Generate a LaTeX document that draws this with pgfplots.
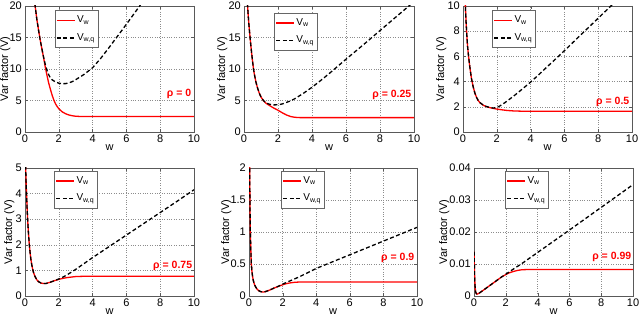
\documentclass[border=0pt]{standalone}
\usepackage{fontspec}
\setmainfont{Liberation Sans}
\usepackage{pgfplots}
\pgfplotsset{compat=1.18}
\pgfplotsset{
  panel/.style={
    scale only axis, height=128pt, anchor=south west,
    xmin=0, xmax=10, xtick={0,2,...,10},
    grid=major, grid style={dotted, line width=0.5pt, black!45},
    tick align=inside, major tick length=3pt,
    axis line style={black!65}, tick style={black!65},
    every tick label/.append style={font=\fontsize{11}{12}\selectfont},
    /pgf/number format/assume math mode=true,
    yticklabel style={/pgf/number format/fixed, inner sep=1pt, xshift=-2pt},
    xticklabel style={inner sep=1pt, yshift=-2pt},
    scaled y ticks=false,
    xlabel={w}, ylabel={Var factor (V)},
    label style={font=\fontsize{11}{13}\selectfont},
    xlabel style={at={(axis description cs:0.5,0)}, anchor=north, inner sep=0pt, yshift=-12pt},
    legend style={at={(0.175,0.97)}, anchor=north west, draw=black!60, fill=white,
      font=\fontsize{10}{12}\selectfont, inner xsep=1.5pt, inner ysep=3pt, row sep=4pt,
      nodes={inner sep=1.5pt, text height=7.5pt, text depth=3pt}},
    legend cell align=left,
    legend image code/.code={\draw[##1] (0pt,0pt) -- (18pt,0pt);},
  },
  toprow/.style={height=126pt},
  ylab/.style={ylabel style={at={([xshift=-#1]axis description cs:0,0.5)}, anchor=north, inner sep=0pt}},
  vw/.style={red, line width=1.3pt},
  vwq/.style={black, line width=1.3pt, dash pattern=on 4pt off 2.5pt},
}
\tikzset{rholab/.style={anchor=east, text=red, font=\bfseries\fontsize{10.5}{12}\selectfont, inner sep=0pt}}
\begin{document}
\begin{tikzpicture}
\useasboundingbox (0pt,0pt) rectangle (640pt,318pt);
% Panel 1: rho = 0
\begin{axis}[panel, toprow, ylab=25pt, at={(25pt,186pt)}, width=169pt, ymin=0, ymax=20, ytick={0,5,...,20}, legend style={at={(0.175,0.965)}}]
\addplot[vw] coordinates {(0.5,24.5)(0.6,20)(0.7,17.9)(0.8,16.2)(0.9,14.6)(1.0,13.2)(1.1,11.8)(1.2,10.3)(1.3,9.0)(1.4,7.8)(1.5,6.8)(1.6,5.9)(1.7,5.1)(1.8,4.5)(1.9,4.05)(2.0,3.7)(2.2,3.2)(2.4,2.9)(2.6,2.7)(2.8,2.58)(3.0,2.5)(3.3,2.46)(3.6,2.45)(4,2.45)(10,2.45)};
\addplot[vwq] coordinates {(0.5,24.5)(0.6,20)(0.7,17.9)(0.8,16.2)(0.9,14.6)(1.0,13.2)(1.1,11.9)(1.2,10.7)(1.3,9.8)(1.4,9.1)(1.5,8.6)(1.6,8.3)(1.8,7.95)(2.0,7.75)(2.2,7.67)(2.4,7.68)(2.6,7.8)(2.8,8.0)(3.0,8.3)(3.5,9.15)(4.0,10.2)(4.5,11.75)(5,13.5)(5.5,15.3)(6,17.1)(6.5,18.95)(7,20.8)};
\legend{V\textsubscript{w}, V\textsubscript{w,q}}
\node[rholab] at (axis cs:9.85,6.1) {ρ = 0};
\end{axis}
% Panel 2: rho = 0.25
\begin{axis}[panel, toprow, ylab=27pt, at={(244pt,186pt)}, width=170pt, ymin=0, ymax=20, ytick={0,5,...,20}, legend style={at={(0.176,0.945)}}]
\addplot[vw] coordinates {(0.15,23.5)(0.2,20.5)(0.25,18.4)(0.3,16.7)(0.35,15.2)(0.4,13.8)(0.45,12.5)(0.5,11.3)(0.55,10.2)(0.6,9.3)(0.7,7.95)(0.8,6.95)(0.9,6.15)(1.0,5.55)(1.15,4.95)(1.3,4.55)(1.5,4.2)(1.75,3.8)(2.0,3.45)(2.25,3.05)(2.5,2.7)(2.75,2.45)(3.0,2.33)(3.3,2.28)(4,2.28)(10,2.28)};
\addplot[vwq] coordinates {(0.15,23.5)(0.2,20.5)(0.25,18.4)(0.3,16.7)(0.35,15.2)(0.4,13.8)(0.45,12.5)(0.5,11.3)(0.55,10.2)(0.6,9.3)(0.7,7.95)(0.8,6.95)(0.9,6.15)(1.0,5.55)(1.15,4.97)(1.3,4.62)(1.5,4.4)(1.75,4.3)(2.0,4.32)(2.25,4.45)(2.5,4.7)(2.75,4.95)(3,5.3)(3.5,6.15)(4,7.1)(4.5,8.15)(5,9.25)(5.5,10.4)(6,11.55)(7,13.8)(8,16.1)(9,18.4)(9.7,20)(10,20.7)};
\legend{V\textsubscript{w}, V\textsubscript{w,q}}
\node[rholab] at (axis cs:9.85,5.9) {ρ = 0.25};
\end{axis}
% Panel 3: rho = 0.5
\begin{axis}[panel, toprow, ylab=27pt, at={(463pt,186pt)}, width=169pt, ymin=0, ymax=10, ytick={0,2,...,10}, legend style={at={(0.172,0.965)}}]
\addplot[vw] coordinates {(0.1,12.5)(0.14,10)(0.18,8.8)(0.22,7.8)(0.27,6.8)(0.33,6.0)(0.4,5.2)(0.5,4.25)(0.6,3.6)(0.7,3.1)(0.8,2.75)(0.9,2.5)(1.0,2.33)(1.2,2.12)(1.4,2.0)(1.6,1.93)(1.8,1.87)(2.0,1.82)(2.3,1.76)(2.6,1.71)(3.0,1.67)(3.5,1.65)(10,1.65)};
\addplot[vwq] coordinates {(0.1,12.5)(0.14,10)(0.18,8.8)(0.22,7.8)(0.27,6.8)(0.33,6.0)(0.4,5.2)(0.5,4.25)(0.6,3.6)(0.7,3.1)(0.8,2.75)(0.9,2.5)(1.0,2.33)(1.2,2.14)(1.4,2.02)(1.6,1.94)(1.8,1.9)(2.0,1.95)(2.2,2.08)(2.5,2.35)(3,2.85)(3.5,3.4)(4,3.96)(4.5,4.57)(5,5.2)(5.5,5.82)(6,6.45)(7,7.75)(8,9.03)(8.75,10)(9,10.33)};
\legend{V\textsubscript{w}, V\textsubscript{w,q}}
\node[rholab] at (axis cs:9.85,2.4) {ρ = 0.5};
\end{axis}
% Panel 4: rho = 0.75
\begin{axis}[panel, ylab=21pt, at={(25pt,22pt)}, width=169pt, ymin=0, ymax=5, ytick={0,1,...,5}, legend style={at={(0.172,0.977)}}]
\addplot[vw] coordinates {(0.03,5.6)(0.04,5.0)(0.07,4.35)(0.1,3.85)(0.13,3.35)(0.16,2.95)(0.2,2.5)(0.25,2.05)(0.3,1.7)(0.35,1.43)(0.4,1.22)(0.45,1.06)(0.5,0.93)(0.58,0.78)(0.7,0.63)(0.8,0.56)(0.95,0.505)(1.1,0.485)(1.25,0.49)(1.5,0.54)(1.75,0.6)(2,0.65)(2.25,0.69)(2.5,0.72)(2.75,0.74)(3,0.76)(3.5,0.77)(10,0.77)};
\addplot[vwq] coordinates {(0.03,5.6)(0.04,5.0)(0.07,4.35)(0.1,3.85)(0.13,3.35)(0.16,2.95)(0.2,2.5)(0.25,2.05)(0.3,1.7)(0.35,1.43)(0.4,1.22)(0.45,1.06)(0.5,0.93)(0.58,0.78)(0.7,0.63)(0.8,0.56)(0.95,0.505)(1.1,0.485)(1.25,0.49)(1.5,0.54)(1.75,0.6)(2,0.665)(2.25,0.74)(2.5,0.83)(3,1.04)(3.5,1.27)(4,1.5)(5,1.94)(6,2.38)(7,2.82)(8,3.26)(9,3.7)(10,4.15)};
\legend{V\textsubscript{w}, V\textsubscript{w,q}}
\node[rholab] at (axis cs:9.9,1.17) {ρ = 0.75};
\end{axis}
% Panel 5: rho = 0.9
\begin{axis}[panel, ylab=28pt, at={(249pt,22pt)}, width=168pt, ymin=0, ymax=2, ytick={0,0.5,...,2}, legend style={at={(0.19,0.977)}}]
\addplot[vw] coordinates {(0.03,2.5)(0.04,2.0)(0.05,1.65)(0.06,1.38)(0.08,1.0)(0.1,0.8)(0.12,0.62)(0.14,0.5)(0.17,0.4)(0.2,0.33)(0.25,0.25)(0.3,0.2)(0.35,0.165)(0.4,0.14)(0.5,0.1)(0.6,0.08)(0.7,0.068)(0.8,0.063)(0.9,0.064)(1.0,0.07)(1.25,0.095)(1.5,0.125)(1.75,0.15)(2,0.175)(2.25,0.195)(2.5,0.207)(2.75,0.215)(3,0.218)(3.5,0.22)(10,0.22)};
\addplot[vwq] coordinates {(0.03,2.5)(0.04,2.0)(0.05,1.65)(0.06,1.38)(0.08,1.0)(0.1,0.8)(0.12,0.62)(0.14,0.5)(0.17,0.4)(0.2,0.33)(0.25,0.25)(0.3,0.2)(0.35,0.165)(0.4,0.14)(0.5,0.1)(0.6,0.08)(0.7,0.068)(0.8,0.063)(0.9,0.064)(1.0,0.07)(1.25,0.095)(1.5,0.125)(1.75,0.152)(2,0.185)(2.5,0.243)(3,0.3)(3.5,0.365)(4,0.43)(5,0.537)(6,0.644)(7,0.751)(8,0.858)(9,0.965)(10,1.072)};
\legend{V\textsubscript{w}, V\textsubscript{w,q}}
\node[rholab] at (axis cs:9.85,0.6) {ρ = 0.9};
\end{axis}
% Panel 6: rho = 0.99
\begin{axis}[panel, ylab=35pt, at={(474pt,22pt)}, width=159pt, ymin=0, ymax=0.04, ytick={0,0.01,0.02,0.03,0.04}, legend style={at={(0.195,0.977)}}]
\addplot[vw] coordinates {(0.005,0.0139)(0.03,0.0075)(0.06,0.0035)(0.1,0.0013)(0.15,0.0007)(0.2,0.0006)(0.3,0.0008)(0.5,0.0015)(0.75,0.0024)(1,0.0033)(1.25,0.0042)(1.5,0.0051)(1.75,0.006)(2,0.0067)(2.25,0.0073)(2.5,0.0077)(2.75,0.008)(3,0.0082)(3.5,0.0083)(10,0.0083)};
\addplot[vwq] coordinates {(0.005,0.0139)(0.03,0.0075)(0.06,0.0035)(0.1,0.0013)(0.15,0.0007)(0.2,0.0006)(0.3,0.0008)(0.5,0.0015)(0.75,0.0024)(1,0.0033)(1.25,0.0042)(1.5,0.0051)(1.75,0.006)(2,0.0068)(2.5,0.0085)(3,0.0101)(4,0.0136)(6,0.0206)(8,0.0277)(10,0.0348)};
\legend{V\textsubscript{w}, V\textsubscript{w,q}}
\node[rholab] at (axis cs:9.9,0.0121) {ρ = 0.99};
\end{axis}
\end{tikzpicture}
\end{document}
